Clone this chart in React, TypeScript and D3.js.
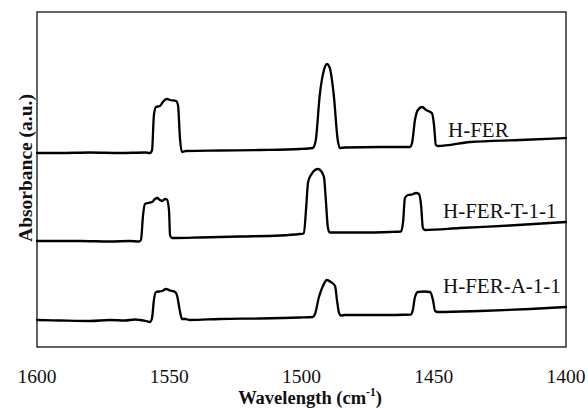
import React from "react";
import * as d3 from "d3";

const xTicks = [1600, 1550, 1500, 1450, 1400];
const seriesNames = ["H-FER", "H-FER-T-1-1", "H-FER-A-1-1"];

// [wavenumber (cm-1), absorbance (a.u.)]
const hFer: [number, number][] = [
  [1600, 1.94], [1591.3, 1.94], [1580.0, 1.945], [1568.6, 1.94], [1559.2, 1.945], [1557.3, 1.94],
  [1556.5, 1.97], [1555.8, 2.32], [1555.0, 2.4], [1553.5, 2.41], [1552.4, 2.45], [1550.9, 2.48],
  [1549.7, 2.47], [1547.4, 2.46], [1546.7, 2.42], [1545.9, 2.07], [1545.2, 1.95], [1543.7, 1.96],
  [1530.8, 1.965], [1515.7, 1.97], [1500.6, 1.98], [1495.7, 1.99], [1494.6, 2.07], [1493.1, 2.52],
  [1491.5, 2.77], [1490.4, 2.83], [1489.3, 2.79], [1487.8, 2.52], [1486.3, 2.07], [1485.5, 1.99],
  [1483.6, 1.995], [1470.3, 2.0], [1459.0, 2.0], [1458.2, 2.04], [1457.1, 2.27], [1456.0, 2.37],
  [1454.4, 2.4], [1452.9, 2.37], [1450.7, 2.34], [1449.9, 2.22], [1449.2, 2.02], [1448.4, 2.01],
  [1436.3, 2.05], [1417.4, 2.07], [1400, 2.09],
];

const hFerT: [number, number][] = [
  [1600, 1.06], [1583.7, 1.06], [1572.4, 1.055], [1564.8, 1.06], [1561.4, 1.055], [1560.7, 1.07],
  [1559.9, 1.32], [1559.2, 1.43], [1558.0, 1.44], [1556.5, 1.45], [1555.4, 1.48], [1554.6, 1.49],
  [1553.5, 1.47], [1552.7, 1.46], [1551.6, 1.48], [1550.9, 1.475], [1550.1, 1.37], [1549.7, 1.12],
  [1549.0, 1.09], [1547.4, 1.09], [1538.4, 1.095], [1523.3, 1.105], [1508.1, 1.115], [1500.6, 1.13],
  [1499.1, 1.135], [1498.3, 1.37], [1497.5, 1.65], [1496.4, 1.72], [1494.9, 1.77], [1493.8, 1.78],
  [1492.6, 1.76], [1491.5, 1.7], [1490.8, 1.47], [1490.0, 1.19], [1489.3, 1.145], [1477.9, 1.145],
  [1466.5, 1.15], [1462.4, 1.155], [1461.6, 1.25], [1460.9, 1.49], [1459.7, 1.52], [1458.2, 1.525],
  [1456.7, 1.54], [1455.6, 1.53], [1454.8, 1.42], [1454.1, 1.19], [1453.3, 1.17], [1440.1, 1.19],
  [1421.2, 1.215], [1400, 1.25],
];

const hFerA: [number, number][] = [
  [1600, 0.27], [1591.3, 0.265], [1580.0, 0.26], [1572.4, 0.27], [1566.7, 0.265], [1562.9, 0.275],
  [1561.1, 0.27], [1558.8, 0.26], [1557.3, 0.25], [1556.5, 0.29], [1555.8, 0.47], [1555.0, 0.55],
  [1552.7, 0.56], [1551.2, 0.58], [1549.7, 0.565], [1547.8, 0.55], [1547.1, 0.52], [1545.9, 0.35],
  [1545.2, 0.28], [1544.0, 0.28], [1542.2, 0.27], [1530.8, 0.28], [1515.7, 0.285], [1500.6, 0.295],
  [1495.7, 0.3], [1494.9, 0.33], [1493.4, 0.5], [1491.9, 0.61], [1490.4, 0.67], [1488.9, 0.65],
  [1487.3, 0.61], [1486.6, 0.47], [1485.8, 0.34], [1485.1, 0.315], [1483.6, 0.32], [1470.3, 0.32],
  [1458.6, 0.325], [1457.9, 0.37], [1457.1, 0.5], [1456.0, 0.55], [1453.7, 0.555], [1451.4, 0.55],
  [1450.3, 0.47], [1449.5, 0.36], [1448.4, 0.35], [1432.5, 0.36], [1413.6, 0.38], [1400, 0.4],
];

const seriesData = [hFer, hFerT, hFerA];
// label anchor positions (wavenumber, absorbance)
const labelPos: [number, number][] = [[1444.6, 2.1], [1446.5, 1.29], [1446.5, 0.54]];

const W = 588;
const H = 408;
const left = 37, right = 566, top = 12, bottom = 347;
const FONT = "Liberation Serif, Times New Roman, serif";

export default function App() {
  const x = d3.scaleLinear().domain([1600, 1400]).range([left, right]);
  const y = d3.scaleLinear().domain([0, 3.35]).range([bottom, top]);
  const line = d3
    .line<[number, number]>()
    .x((d) => x(d[0]))
    .y((d) => y(d[1]))
    .curve(d3.curveMonotoneX);

  return (
    <svg
      width={W}
      height={H}
      style={{ position: "absolute", left: 0, top: 0, background: "#fff", fontFamily: FONT }}
    >
      <rect
        x={left}
        y={top}
        width={right - left}
        height={bottom - top}
        fill="none"
        stroke="#222"
        strokeWidth={1.4}
      />
      {seriesData.map((s, i) => (
        <path
          key={i}
          d={line(s) || ""}
          fill="none"
          stroke="#000"
          strokeWidth={2.3}
          strokeLinejoin="round"
          strokeLinecap="round"
        />
      ))}
      {seriesNames.map((n, i) => (
        <text
          key={n}
          x={x(labelPos[i][0])}
          y={y(labelPos[i][1])}
          fontSize={21}
          fill="#111"
        >
          {n}
        </text>
      ))}
      {xTicks.map((t) => (
        <text key={t} x={x(t)} y={383} textAnchor="middle" fontSize={19.5} fill="#111">
          {t}
        </text>
      ))}
      <text x={310} y={403.5} textAnchor="middle" fontSize={18.5} fontWeight="bold" fill="#111">
        Wavelength (cm
        <tspan fontSize={11.5} dy={-7.5}>-1</tspan>
        <tspan dy={7.5}>)</tspan>
      </text>
      <text
        transform={`translate(32, 168) rotate(-90)`}
        textAnchor="middle"
        fontSize={19.5}
        fontWeight="bold"
        fill="#111"
      >
        Absorbance (a.u.)
      </text>
    </svg>
  );
}
